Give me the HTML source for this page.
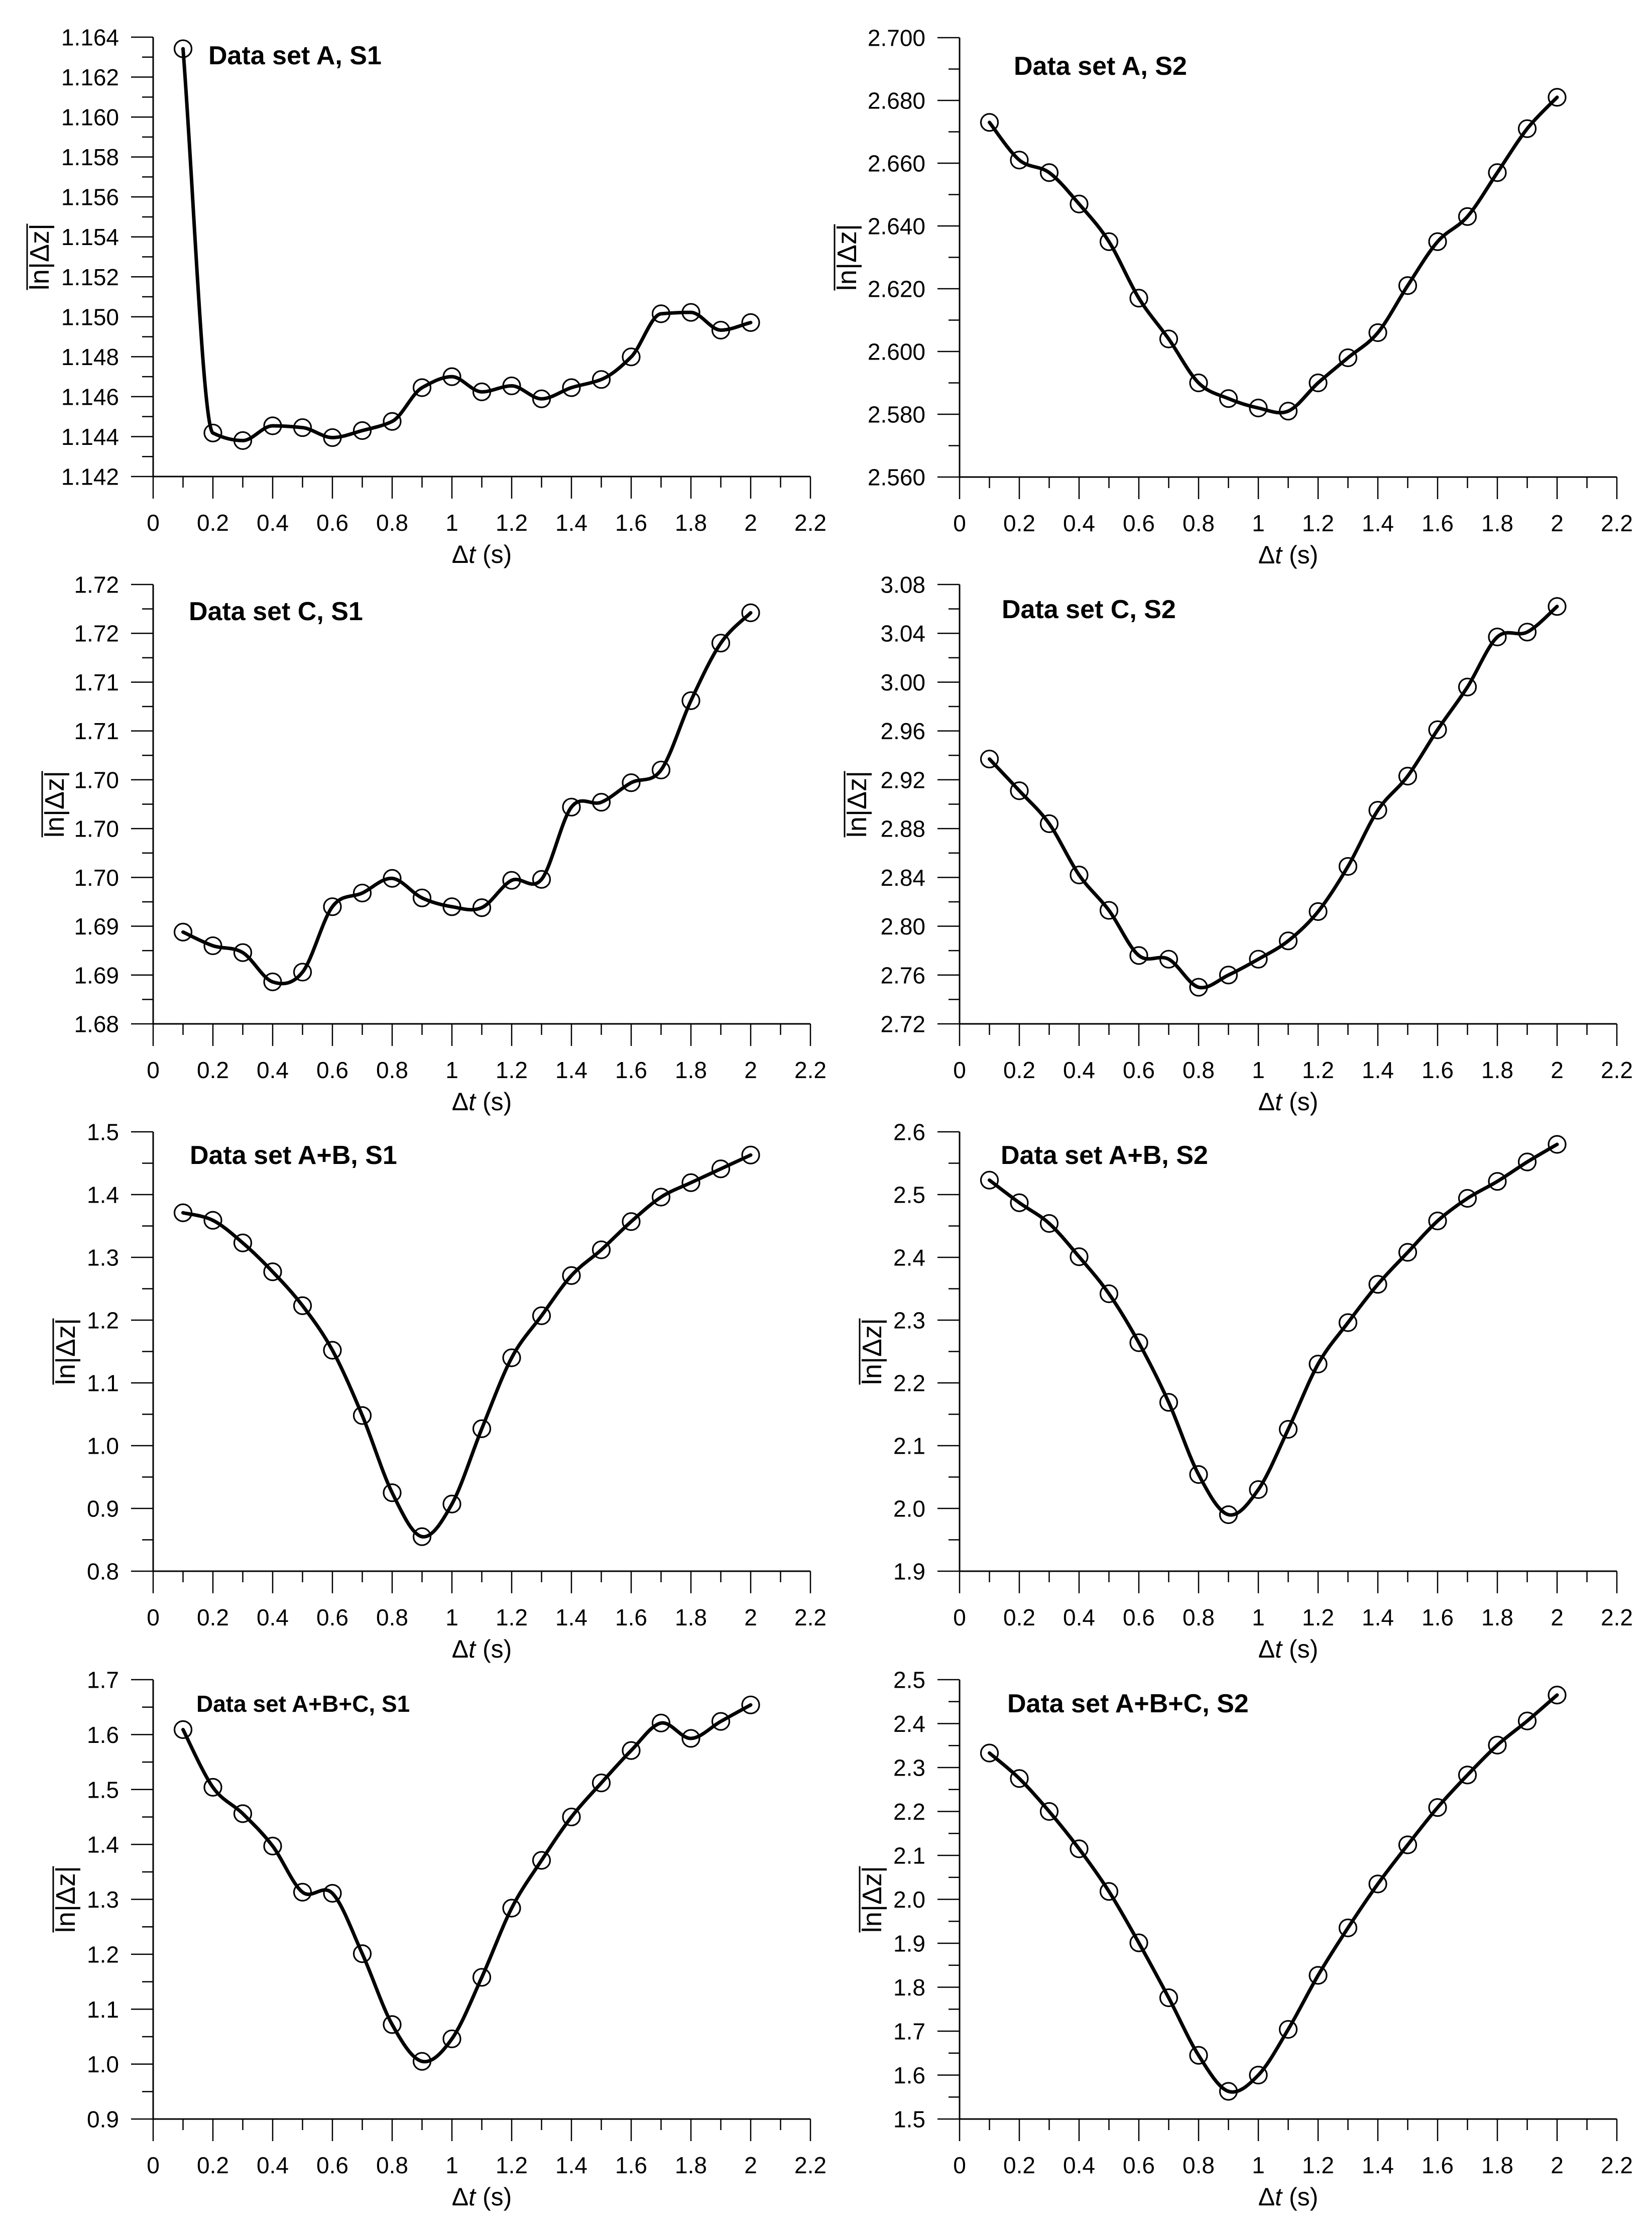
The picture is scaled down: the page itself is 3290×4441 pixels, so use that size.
<!DOCTYPE html>
<html>
<head>
<meta charset="utf-8">
<style>
html,body{margin:0;padding:0;background:#fff;}
svg{display:block;}
text{font-family:"Liberation Sans",Arial,sans-serif;fill:#000;}
</style>
</head>
<body>
<svg id="fig" width="3290" height="4441" viewBox="0 0 3290 4441" xmlns="http://www.w3.org/2000/svg"></svg>
<script>
// ---------- data ----------
const dtValues = [0.1,0.2,0.3,0.4,0.5,0.6,0.7,0.8,0.9,1.0,1.1,1.2,1.3,1.4,1.5,1.6,1.7,1.8,1.9,2.0];
const xTickValues = [0,0.2,0.4,0.6,0.8,1,1.2,1.4,1.6,1.8,2,2.2];
const xTickLabels = ["0","0.2","0.4","0.6","0.8","1","1.2","1.4","1.6","1.8","2","2.2"];

const seriesA_S1 = [1.16342,1.14418,1.1438,1.14454,1.14445,1.14395,1.1443,1.14476,1.14645,1.147,1.14624,1.14654,1.14589,1.14645,1.14686,1.14799,1.15015,1.15022,1.14933,1.14971];
const seriesA_S2 = [2.673,2.661,2.657,2.647,2.635,2.617,2.604,2.590,2.585,2.582,2.581,2.590,2.598,2.606,2.621,2.635,2.643,2.657,2.671,2.681];
const seriesC_S1 = [1.6894,1.6880,1.6873,1.6843,1.6853,1.6920,1.6934,1.6949,1.6929,1.6920,1.6919,1.6947,1.6948,1.7022,1.7027,1.7047,1.7060,1.7131,1.7190,1.7221];
const seriesC_S2 = [2.937,2.911,2.884,2.842,2.813,2.776,2.773,2.750,2.760,2.773,2.788,2.812,2.849,2.895,2.923,2.961,2.996,3.037,3.041,3.062];
const seriesAB_S1 = [1.371,1.359,1.323,1.277,1.223,1.152,1.048,0.925,0.855,0.907,1.027,1.140,1.207,1.271,1.312,1.357,1.396,1.419,1.441,1.463];
const seriesAB_S2 = [2.523,2.487,2.454,2.401,2.342,2.264,2.169,2.054,1.990,2.030,2.126,2.230,2.296,2.357,2.408,2.458,2.494,2.521,2.552,2.580];
const seriesABC_S1 = [1.609,1.504,1.456,1.397,1.313,1.311,1.201,1.072,1.005,1.046,1.158,1.284,1.371,1.450,1.512,1.571,1.621,1.593,1.624,1.654];
const seriesABC_S2 = [2.333,2.275,2.200,2.115,2.018,1.901,1.776,1.645,1.563,1.600,1.704,1.827,1.935,2.035,2.124,2.209,2.283,2.351,2.406,2.465];

const yLabelsA_S1 = ["1.142","1.144","1.146","1.148","1.150","1.152","1.154","1.156","1.158","1.160","1.162","1.164"];
const yLabelsA_S2 = ["2.560","2.580","2.600","2.620","2.640","2.660","2.680","2.700"];
const yLabelsC_S1 = ["1.68","1.69","1.69","1.70","1.70","1.70","1.71","1.71","1.72","1.72"];
const yLabelsC_S2 = ["2.72","2.76","2.80","2.84","2.88","2.92","2.96","3.00","3.04","3.08"];
const yLabelsAB_S1 = ["0.8","0.9","1.0","1.1","1.2","1.3","1.4","1.5"];
const yLabelsAB_S2 = ["1.9","2.0","2.1","2.2","2.3","2.4","2.5","2.6"];
const yLabelsABC_S1 = ["0.9","1.0","1.1","1.2","1.3","1.4","1.5","1.6","1.7"];
const yLabelsABC_S2 = ["1.5","1.6","1.7","1.8","1.9","2.0","2.1","2.2","2.3","2.4","2.5"];

const yDomainA_S1 = [1.142,1.164];
const yDomainA_S2 = [2.56,2.70];
const yDomainC_S1 = [1.68,1.725];
const yDomainC_S2 = [2.72,3.08];
const yDomainAB_S1 = [0.8,1.5];
const yDomainAB_S2 = [1.9,2.6];
const yDomainABC_S1 = [0.9,1.7];
const yDomainABC_S2 = [1.5,2.5];

// ---------- layout ----------
const panels = [
 {id:"a-s1", title:"Data set A, S1", x0:305, top:74, series:seriesA_S1, dom:yDomainA_S1, labels:yLabelsA_S1, tx:415, ty:128, ts:52, ylx:78, mono:true},
 {id:"a-s2", title:"Data set A, S2", x0:1911, top:75, series:seriesA_S2, dom:yDomainA_S2, labels:yLabelsA_S2, tx:2019, ty:149, ts:52, ylx:1686},
 {id:"c-s1", title:"Data set C, S1", x0:305, top:1164, series:seriesC_S1, dom:yDomainC_S1, labels:yLabelsC_S1, tx:376, ty:1235, ts:52, ylx:108},
 {id:"c-s2", title:"Data set C, S2", x0:1911, top:1164, series:seriesC_S2, dom:yDomainC_S2, labels:yLabelsC_S2, tx:1995, ty:1231, ts:52, ylx:1706},
 {id:"ab-s1", title:"Data set A+B, S1", x0:305, top:2254, series:seriesAB_S1, dom:yDomainAB_S1, labels:yLabelsAB_S1, tx:378, ty:2318, ts:52, ylx:130},
 {id:"ab-s2", title:"Data set A+B, S2", x0:1911, top:2254, series:seriesAB_S2, dom:yDomainAB_S2, labels:yLabelsAB_S2, tx:1993, ty:2318, ts:52, ylx:1736},
 {id:"abc-s1", title:"Data set A+B+C, S1", x0:305, top:3345, series:seriesABC_S1, dom:yDomainABC_S1, labels:yLabelsABC_S1, tx:391, ty:3409, ts:46, ylx:130},
 {id:"abc-s2", title:"Data set A+B+C, S2", x0:1911, top:3345, series:seriesABC_S2, dom:yDomainABC_S2, labels:yLabelsABC_S2, tx:2006, ty:3410, ts:52, ylx:1736}
];
const PW = 1309, PH = 875, XMAX = 2.2;
const NS = "http://www.w3.org/2000/svg";
const svg = document.getElementById("fig");

function mk(tag, attrs, parent){
  const el = document.createElementNS(NS, tag);
  for (const k in attrs) el.setAttribute(k, attrs[k]);
  (parent||svg).appendChild(el);
  return el;
}

function smoothPath(pts){
  let d = "M" + pts[0][0].toFixed(2) + "," + pts[0][1].toFixed(2);
  for (let i=0;i<pts.length-1;i++){
    const p0 = pts[i-1]||pts[i], p1 = pts[i], p2 = pts[i+1], p3 = pts[i+2]||pts[i+1];
    const c1x = p1[0] + (p2[0]-p0[0])/6, c1y = p1[1] + (p2[1]-p0[1])/6;
    const c2x = p2[0] - (p3[0]-p1[0])/6, c2y = p2[1] - (p3[1]-p1[1])/6;
    d += " C" + c1x.toFixed(2)+","+c1y.toFixed(2)+" "+c2x.toFixed(2)+","+c2y.toFixed(2)+" "+p2[0].toFixed(2)+","+p2[1].toFixed(2);
  }
  return d;
}

function monoPath(pts){
  const n = pts.length, dx = [], sl = [], m = [];
  for (let i=0;i<n-1;i++){ dx[i]=pts[i+1][0]-pts[i][0]; sl[i]=(pts[i+1][1]-pts[i][1])/dx[i]; }
  m[0]=sl[0]; m[n-1]=sl[n-2];
  for (let i=1;i<n-1;i++){
    if (sl[i-1]*sl[i] <= 0) m[i]=0;
    else { const w1=2*dx[i]+dx[i-1], w2=dx[i]+2*dx[i-1]; m[i]=(w1+w2)/(w1/sl[i-1]+w2/sl[i]); }
  }
  let d = "M" + pts[0][0].toFixed(2) + "," + pts[0][1].toFixed(2);
  for (let i=0;i<n-1;i++){
    const h = dx[i]/3;
    d += " C"+(pts[i][0]+h).toFixed(2)+","+(pts[i][1]+m[i]*h).toFixed(2)+" "+(pts[i+1][0]-h).toFixed(2)+","+(pts[i+1][1]-m[i+1]*h).toFixed(2)+" "+pts[i+1][0].toFixed(2)+","+pts[i+1][1].toFixed(2);
  }
  return d;
}

panels.forEach(p => {
  const g = mk("g", {});
  
  
  const bottom = p.top + PH;
  const xs = v => p.x0 + v / XMAX * PW;
  const ys = v => bottom - (v - p.dom[0]) / (p.dom[1] - p.dom[0]) * PH;

  const yAxis = mk("line", {x1:p.x0, y1:p.top, x2:p.x0, y2:bottom, stroke:"#000", "stroke-width":3}, g);
  
  
  const xAxis = mk("line", {x1:p.x0, y1:bottom, x2:p.x0+PW, y2:bottom, stroke:"#000", "stroke-width":3}, g);
  
  

  for (let i=0;i<=22;i++){
    const v = i*0.1, X = xs(v);
    const major = i%2===0;
    const t = mk("line", {x1:X, y1:bottom, x2:X, y2:bottom+(major?44:22), stroke:"#000", "stroke-width":2.5}, g);
    
    
  }
  xTickValues.forEach((v,i) => {
    const t = mk("text", {x:xs(v), y:bottom+108, "font-size":46, "text-anchor":"middle"}, g);
    t.textContent = xTickLabels[i];
    
    
  });
  const xt = mk("text", {x:p.x0+PW/2, y:bottom+172, "font-size":50, "text-anchor":"middle"}, g);
  xt.innerHTML = 'Δ<tspan font-style="italic">t</tspan> (s)';
  
  

  const n = p.labels.length - 1;
  for (let i=0;i<=2*n;i++){
    const v = p.dom[0] + (p.dom[1]-p.dom[0]) * i / (2*n);
    const Y = ys(v);
    const major = i%2===0;
    const t = mk("line", {x1:p.x0-(major?44:22), y1:Y, x2:p.x0, y2:Y, stroke:"#000", "stroke-width":2.5}, g);
    
    
  }
  p.labels.forEach((lab,i) => {
    const v = p.dom[0] + (p.dom[1]-p.dom[0]) * i / n;
    const t = mk("text", {x:p.x0-68, y:ys(v)+16.5, "font-size":46, "text-anchor":"end"}, g);
    t.textContent = lab;
    
    
  });
  const cy = p.top + PH/2;
  const yt = mk("text", {x:0, y:0, "font-size":54, "text-anchor":"middle", transform:"translate("+(p.ylx+19)+","+cy+") rotate(-90)"}, g);
  yt.textContent = "ln|Δz|";
  
  
  const ol = mk("line", {x1:p.ylx-24, y1:cy-66, x2:p.ylx-24, y2:cy+66, stroke:"#000", "stroke-width":3}, g);
  
  

  const tt = mk("text", {x:p.tx, y:p.ty, "font-size":p.ts, "font-weight":"bold"}, g);
  tt.textContent = p.title;
  
  

  const pts = dtValues.map((x,i) => [xs(x), ys(p.series[i])]);
  const path = mk("path", {d:(p.mono?monoPath(pts):smoothPath(pts)), fill:"none", stroke:"#000", "stroke-width":7, "stroke-linejoin":"round", "stroke-linecap":"round"}, g);
  
  

  pts.forEach(pt => {
    const c = mk("circle", {cx:pt[0], cy:pt[1], r:17, fill:"none", stroke:"#000", "stroke-width":3.2}, g);
    
    
  });
});
</script>
</body>
</html>
